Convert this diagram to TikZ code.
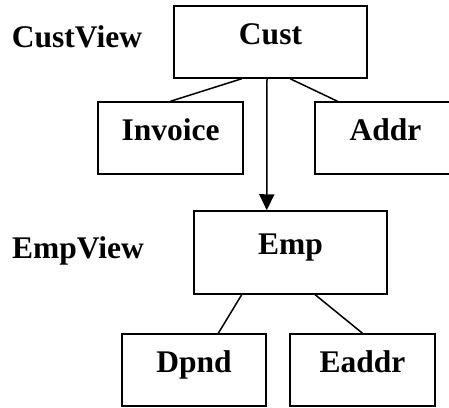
\documentclass[tikz,border=0pt]{standalone}
\usepackage{fontspec}
\setmainfont{Liberation Serif}
\usepackage{tikz}
\usetikzlibrary{arrows.meta, calc}

\begin{document}
\begin{tikzpicture}[x=1pt, y=-1pt, line width=1.5pt,
  every node/.style={font=\fontsize{31.5}{36}\selectfont\bfseries},
  entbox/.style={draw, inner sep=0pt, text height=0.66em, text depth=0.22em}]
  \useasboundingbox (0,0) rectangle (449,407);
  % view names
  \node[anchor=base] (custview) at (77,47) {CustView};
  \node[anchor=base] (empview) at (78,258) {EmpView};
  % CustView tree
  \node[entbox, minimum width=193pt, minimum height=72pt] (cust) at (270.5,42) {Cust};
  \node[entbox, minimum width=145pt, minimum height=72pt] (inv) at (170.5,138) {Invoice};
  \node[entbox, minimum width=141pt, minimum height=72pt] (addr) at (385.5,138) {Addr};
  % EmpView tree
  \node[entbox, minimum width=193pt, minimum height=83pt] (emp) at (290.5,252.5) {Emp};
  \node[entbox, minimum width=144pt, minimum height=72pt] (dpnd) at (194,370) {Dpnd};
  \node[entbox, minimum width=145pt, minimum height=72pt] (eaddr) at (362.5,370) {Eaddr};
  % links
  \draw ($(cust.south west)!0.352!(cust.south east)$) -- (inv.north);
  \draw ($(cust.south west)!0.601!(cust.south east)$) -- ($(addr.north west)!0.163!(addr.north east)$);
  \draw ($(emp.south west)!0.249!(emp.south east)$) -- ($(dpnd.north west)!0.667!(dpnd.north east)$);
  \draw ($(emp.south west)!0.627!(emp.south east)$) -- (eaddr.north);
  \draw[-{Triangle[length=16pt, width=15pt]}] ($(cust.south west)!0.482!(cust.south east)$) -- ($(emp.north west)!0.378!(emp.north east)$);
\end{tikzpicture}
\end{document}
